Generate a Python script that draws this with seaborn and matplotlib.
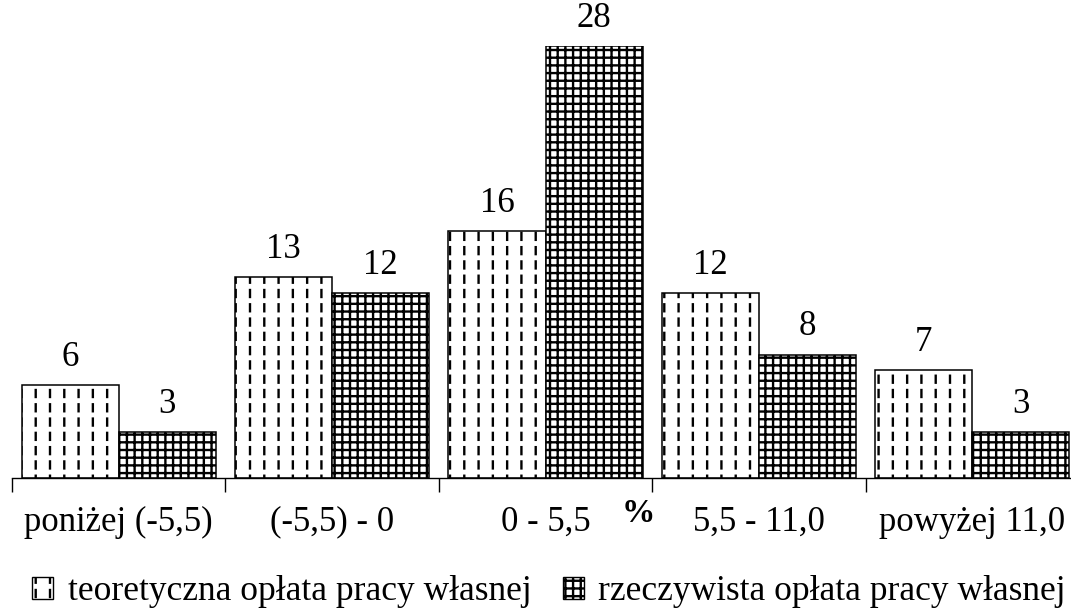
import numpy as np
import pandas as pd
import matplotlib
matplotlib.use("Agg")
import matplotlib.pyplot as plt
import matplotlib.hatch as mhatch
from matplotlib.path import Path
from matplotlib.patches import Patch
import seaborn as sns

# ---------------- data ----------------
categories = ["poniżej (-5,5)", "(-5,5) - 0", "0 - 5,5", "5,5 - 11,0", "powyżej 11,0"]
series_names = ["teoretyczna opłata pracy własnej", "rzeczywista opłata pracy własnej"]
teoretyczna = [6, 13, 16, 12, 7]
rzeczywista = [3, 12, 28, 8, 3]

# ---------------- custom hatches ----------------
class PlusVertical(mhatch.VerticalHatch):
    def __init__(self, hatch, density):
        self.num_lines = int(hatch.count('+') * 6.5)
        self.num_vertices = self.num_lines * 2


class PlusHorizontal(mhatch.HorizontalHatch):
    def __init__(self, hatch, density):
        self.num_lines = int(hatch.count('+') * 6.5)
        self.num_vertices = self.num_lines * 2


class DashedVertical(mhatch.HatchPatternBase):
    def __init__(self, hatch, density):
        c = hatch.count('|')
        self.cols = 7 * c
        self.rows = 7 * c
        self.num_lines = self.cols * self.rows
        self.num_vertices = self.num_lines * 2

    def set_vertices_and_codes(self, vertices, codes):
        k = 0
        for i in range(self.cols):
            x = (i + 0.5) / self.cols
            for j in range(self.rows):
                y0 = j / self.rows + 0.03
                vertices[k] = (x, y0)
                vertices[k + 1] = (x, y0 + 0.07)
                codes[k] = Path.MOVETO
                codes[k + 1] = Path.LINETO
                k += 2


mhatch._hatch_types[mhatch._hatch_types.index(mhatch.VerticalHatch)] = PlusVertical
mhatch._hatch_types[mhatch._hatch_types.index(mhatch.HorizontalHatch)] = PlusHorizontal
mhatch._hatch_types.append(DashedVertical)

# ---------------- style ----------------
sns.set_theme(style="white")
plt.rcParams["font.family"] = ["Liberation Serif", "DejaVu Serif"]
plt.rcParams["hatch.linewidth"] = 1.7
plt.rcParams["text.color"] = "black"
plt.rcParams["xtick.color"] = "black"
plt.rcParams["xtick.labelcolor"] = "black"

df = pd.DataFrame({
    "kategoria": categories * 2,
    "seria": [series_names[0]] * len(categories) + [series_names[1]] * len(categories),
    "wartosc": teoretyczna + rzeczywista,
})

fig = plt.figure(figsize=(10.71, 6.11), dpi=100)
ax = fig.add_axes([12 / 1071, 133 / 611, 1067 / 1071, 432 / 611])

sns.barplot(data=df, x="kategoria", y="wartosc", hue="seria",
            order=categories, hue_order=series_names,
            palette=["white", "white"], edgecolor="black", linewidth=1.1,
            width=0.91, gap=0, errorbar=None, legend=False, ax=ax)

hatches = ["|", "++"]
for cont, h in zip(ax.containers, hatches):
    for bar in cont:
        bar.set_hatch(h)
        bar.set_edgecolor("black")
    ax.bar_label(cont, labels=[f"{int(v)}" for v in cont.datavalues],
                 padding=8, fontsize=25, color="black")

ax.set_xlim(-0.5, len(categories) - 0.5)
ax.set_ylim(0, 28)
ax.set_xlabel("")
ax.set_ylabel("")
ax.set_yticks([])
for s in ["left", "right", "top"]:
    ax.spines[s].set_visible(False)
ax.spines["bottom"].set_color("black")
ax.spines["bottom"].set_linewidth(1.0)

# boundary ticks (major), category labels (minor)
ax.set_xticks(np.arange(len(categories) + 1) - 0.5)
ax.set_xticklabels([])
ax.tick_params(axis="x", which="major", direction="out", length=10, width=1,
               color="black", bottom=True)
ax.set_xticks(np.arange(len(categories)), minor=True)
ax.set_xticklabels(categories, minor=True, fontsize=25, color="black")
ax.tick_params(axis="x", which="minor", length=0, pad=20)

fig.text(638 / 1071, 1 - 514 / 611, "%", fontsize=24, fontweight="bold",
         ha="center", va="center", color="black")

handles = [Patch(facecolor="white", edgecolor="black", hatch=h, linewidth=1.0) for h in hatches]
fig.legend(handles, series_names, loc="center", bbox_to_anchor=(549 / 1071, 1 - 592 / 611),
           ncol=2, frameon=False, fontsize=25.5, handlelength=0.6, handleheight=0.6,
           handletextpad=0.4, columnspacing=0.9, borderpad=0, borderaxespad=0)

fig.savefig("out.png", dpi=100)
